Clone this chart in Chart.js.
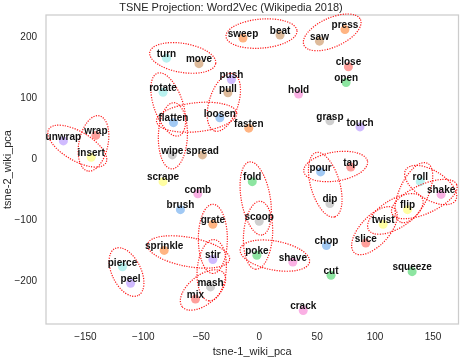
<!DOCTYPE html>
<html>
<head>
<meta charset="utf-8">
<script src="https://cdn.jsdelivr.net/npm/chart.js@4.4.1/dist/chart.umd.min.js"></script>
<style>
  body { margin: 0; background: #fff; }
</style>
</head>
<body>
<canvas id="tsneChart" width="463" height="357"></canvas>
<script>
const words = ['sweep', 'beat', 'press', 'saw', 'turn', 'move', 'close', 'push', 'open', 'rotate',
  'pull', 'hold', 'flatten', 'loosen', 'fasten', 'grasp', 'touch', 'unwrap', 'wrap', 'insert',
  'wipe', 'spread', 'scrape', 'comb', 'brush', 'fold', 'pour', 'tap', 'dip', 'roll',
  'shake', 'flip', 'twist', 'slice', 'grate', 'scoop', 'sprinkle', 'stir', 'poke', 'shave',
  'chop', 'cut', 'squeeze', 'pierce', 'peel', 'mash', 'mix', 'crack'];
const xValues = [-14, 18, 74, 52, -80, -52, 77, -24, 75, -83,
  -27, 34, -74, -34, -9, 61, 87, -169, -141, -145,
  -75, -49, -83, -53, -68, -6, 53, 79, 61, 139,
  157, 128, 107, 92, -40, 0, -82, -40, -2, 29,
  58, 62, 132, -118, -111, -42, -55, 38];
const yValues = [199, 204, 213, 194, 166, 157, 152, 131, 126, 110,
  109, 107, 60, 68, 51, 63, 53, 30, 39, 3,
  7, 7, -37, -57, -83, -37, -21, -13, -73, -37,
  -58, -83, -107, -138, -107, -102, -150, -165, -158, -169,
  -142, -191, -185, -177, -204, -210, -230, -249];

// word pairs circled on the plot
const groups = [['sweep', 'beat'], ['saw', 'press'], ['turn', 'move'], ['rotate', 'flatten'],
  ['flatten', 'loosen'], ['flatten', 'wipe'], ['pull', 'loosen'], ['unwrap', 'insert'],
  ['wrap', 'insert'], ['pour', 'tap'], ['pour', 'dip'], ['fold', 'scoop'], ['scoop', 'poke'],
  ['poke', 'shave'], ['grate', 'stir'], ['sprinkle', 'stir'], ['stir', 'mash'], ['mash', 'mix'],
  ['pierce', 'peel'], ['roll', 'shake'], ['roll', 'flip'], ['flip', 'shake'], ['twist', 'flip'],
  ['twist', 'slice']];

const xTicks = [-150, -100, -50, 0, 50, 100, 150];
const yTicks = [-200, -100, 0, 100, 200];

// seaborn pastel colours, one per word
const pal = {
  blue: '#a1c9f4', orange: '#ffb482', green: '#8de5a1', red: '#ff9f9b', purple: '#d0bbff',
  brown: '#debb9b', pink: '#fab0e4', gray: '#cfcfcf', yellow: '#fffea3', cyan: '#b9f2f0'
};
const pointColors = ['orange', 'brown', 'orange', 'brown', 'cyan', 'brown', 'red', 'purple', 'green', 'cyan',
  'brown', 'pink', 'blue', 'blue', 'orange', 'gray', 'purple', 'purple', 'red', 'yellow',
  'gray', 'brown', 'yellow', 'pink', 'blue', 'green', 'blue', 'red', 'gray', 'cyan',
  'pink', 'yellow', 'yellow', 'red', 'orange', 'gray', 'orange', 'purple', 'green', 'pink',
  'blue', 'green', 'green', 'cyan', 'purple', 'gray', 'red', 'pink'].map(c => pal[c]);

const fontFamily = '"Liberation Sans", Arial, sans-serif';
const minus = v => String(v).replace('-', '\u2212');

const overlay = {
  id: 'overlay',
  afterDatasetsDraw(chart) {
    const { ctx, chartArea: a, scales: { x, y } } = chart;
    ctx.save();
    // frame
    ctx.strokeStyle = '#cccccc';
    ctx.lineWidth = 1.25;
    ctx.strokeRect(a.left, a.top, a.right - a.left, a.bottom - a.top);

    // dotted ellipses round the pairs
    ctx.strokeStyle = 'rgba(255,0,0,0.9)';
    ctx.lineWidth = 1.2;
    ctx.setLineDash([1.2, 1.3]);
    groups.forEach(([p, q]) => {
      const i = words.indexOf(p), j = words.indexOf(q);
      const x1 = x.getPixelForValue(xValues[i]), y1 = y.getPixelForValue(yValues[i]);
      const x2 = x.getPixelForValue(xValues[j]), y2 = y.getPixelForValue(yValues[j]);
      const rx = Math.hypot(x2 - x1, y2 - y1) / 2 + 17;
      ctx.beginPath();
      ctx.ellipse((x1 + x2) / 2, (y1 + y2) / 2 - 3, rx, 14.5, Math.atan2(y2 - y1, x2 - x1), 0, Math.PI * 2);
      ctx.stroke();
    });
    ctx.setLineDash([]);

    // word labels
    ctx.font = 'bold 10px ' + fontFamily;
    ctx.fillStyle = '#111';
    ctx.textAlign = 'center';
    ctx.textBaseline = 'middle';
    words.forEach((w, i) => {
      ctx.fillText(w, x.getPixelForValue(xValues[i]), y.getPixelForValue(yValues[i]) - 4);
    });
    ctx.restore();
  }
};

new Chart(document.getElementById('tsneChart'), {
  type: 'scatter',
  data: {
    datasets: [{
      data: words.map((w, i) => ({ x: xValues[i], y: yValues[i] })),
      pointBackgroundColor: pointColors,
      pointBorderWidth: 0,
      pointRadius: 4.5
    }]
  },
  options: {
    responsive: false,
    animation: false,
    layout: { padding: { top: 0, right: 1, bottom: 0, left: 0 } },
    plugins: {
      legend: { display: false },
      tooltip: { enabled: false },
      title: {
        display: true,
        text: 'TSNE Projection: Word2Vec (Wikipedia 2018)',
        color: '#262626',
        font: { family: fontFamily, size: 11, weight: 'normal' },
        padding: { top: 0, bottom: 0 }
      }
    },
    scales: {
      x: {
        type: 'linear',
        min: -184,
        max: 172,
        grid: { display: false, drawTicks: false },
        border: { display: false },
        afterBuildTicks: s => { s.ticks = xTicks.map(v => ({ value: v })); },
        afterFit: s => { s.height = 33; },
        ticks: { color: '#262626', padding: 7, font: { family: fontFamily, size: 10 }, callback: minus },
        title: {
          display: true,
          text: 'tsne-1_wiki_pca',
          color: '#262626',
          font: { family: fontFamily, size: 11 },
          padding: { top: 0, bottom: -2 }
        }
      },
      y: {
        type: 'linear',
        min: -271,
        max: 237,
        grid: { display: false, drawTicks: false },
        border: { display: false },
        afterBuildTicks: s => { s.ticks = yTicks.map(v => ({ value: v })); },
        afterFit: s => { s.width = 46; },
        ticks: { color: '#262626', padding: 9, font: { family: fontFamily, size: 10 }, callback: minus },
        title: {
          display: true,
          text: 'tsne-2_wiki_pca',
          color: '#262626',
          font: { family: fontFamily, size: 11 },
          padding: { top: 1, bottom: 0 }
        }
      }
    }
  },
  plugins: [overlay]
});
</script>
</body>
</html>
